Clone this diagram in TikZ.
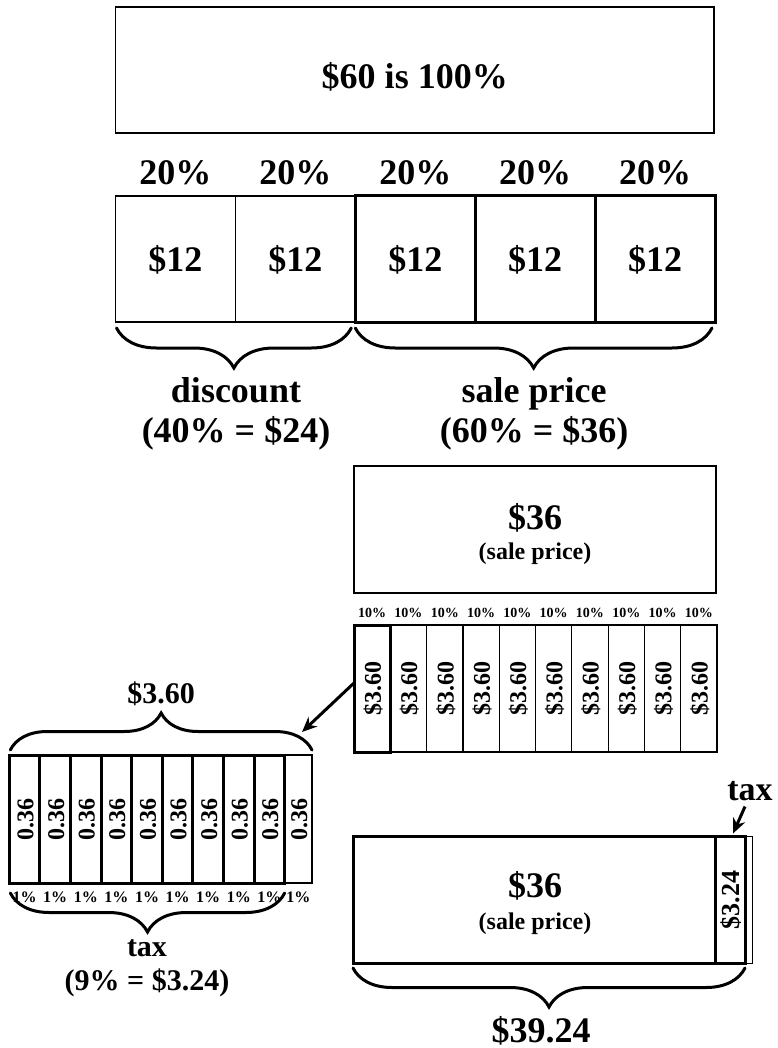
\documentclass[tikz,border=0pt]{standalone}
\usepackage{fontspec}
\setmainfont{Liberation Serif}
\usetikzlibrary{decorations.pathreplacing,arrows.meta}
\newcommand{\myfs}[1]{\bfseries\fontsize{#1}{#1}\selectfont}
\begin{document}
\begin{tikzpicture}[x=1pt,y=-1pt,
  txt/.style={inner sep=0, font=\myfs{#1}},
  box/.style={draw, inner sep=0, outer sep=0, line width=#1},
  brc/.style={decorate, decoration={brace, amplitude=#1}, line width=3pt, line cap=round},
  arr/.style={-{Stealth[length=15pt,width=13pt]}, line width=3pt}]
\useasboundingbox (0,0) rectangle (777,1048);

% ---------- top box ----------
\node[box=1.3pt, minimum width=598.5, minimum height=126] (top) at (414.75,70) {};
\node[txt=36, anchor=base] (toplbl) at (414.75,89) {\$60 is 100\%};

% ---------- five boxes ----------
\foreach \i in {1,2} {
  \pgfmathsetmacro\cx{115.5+119.9*(\i-0.5)}
  \node[box=1.2pt, minimum width=119.9, minimum height=126] (b\i) at (\cx,259) {};
}
\foreach \i in {3,4,5} {
  \pgfmathsetmacro\cx{115.5+119.9*(\i-0.5)}
  \node[box=3pt, minimum width=119.9, minimum height=126] (b\i) at (\cx,259) {};
}
\foreach \i in {1,...,5} {
  \node[txt=36, anchor=base] (p\i) at ([yshift=-13]b\i.center) {\$12};
  \node[txt=36, anchor=base] (q\i) at (b\i.center |- 0,185) {20\%};
}

% ---------- braces under five boxes ----------
\draw[brc=40pt] ([xshift=-4,yshift=-6]b2.south east) -- ([xshift=1,yshift=-6]b1.south west);
\draw[brc=40pt] ([xshift=-3,yshift=-6]b5.south east) -- ([xshift=0,yshift=-6]b3.south west);
\node[txt=36, anchor=base] (disc) at (236,402) {discount};
\node[txt=36, anchor=base] (discv) at (236,442) {(40\% = \$24)};
\node[txt=36, anchor=base] (sale) at (534,402) {sale price};
\node[txt=36, anchor=base] (salev) at (534,442) {(60\% = \$36)};

% ---------- sale price box ----------
\node[box=1.6pt, minimum width=362, minimum height=127] (sp) at (535,529.5) {};
\node[txt=36, anchor=base] (spa) at (535,529) {\$36};
\node[txt=24, anchor=base] (spb) at (535,559) {(sale price)};

% ---------- ten 10% columns ----------
\foreach \i in {2,...,10} {
  \pgfmathsetmacro\cx{354+36.3*(\i-0.5)}
  \node[box=1.2pt, minimum width=36.3, minimum height=127] (s\i) at (\cx,688.5) {};
}
\node[box=3pt, minimum width=36.3, minimum height=127] (s1) at (372.15,688.5) {};
\foreach \i in {1,...,10} {
  \node[txt=24, rotate=90] (st\i) at ([xshift=1]s\i.center) {\$3.60};
  \node[txt=14, anchor=base] (sp\i) at (s\i.center |- 0,617) {10\%};
}

% ---------- arrow to left strip ----------
\coordinate (tipA) at (302,732);
\draw[arr] ([yshift=5.5]s1.west) -- (tipA);

% ---------- left strip ----------
\node[box=1.2pt, minimum width=27.3, minimum height=128] (l10) at (298.35,819) {};
\foreach \i in {1,...,9} {
  \pgfmathsetmacro\cx{9.3+30.6*(\i-0.5)}
  \node[box=3pt, minimum width=30.6, minimum height=128] (l\i) at (\cx,819) {};
}
\foreach \i in {1,...,10} {
  \node[txt=24, rotate=90] (lt\i) at ([xshift=1]l\i.center) {0.36};
  \node[txt=16, anchor=base] (lp\i) at (l\i.center |- 0,902) {1\%};
}
\draw[brc=37pt] ([xshift=1,yshift=5]l1.north west) -- ([yshift=5]l10.north east);
\node[txt=30, anchor=base] (tl) at (161,703) {\$3.60};
\draw[brc=39pt] ([yshift=-10]l9.south east) -- ([xshift=1,yshift=-10]l1.south west);
\node[txt=30, anchor=base] (taxl) at (147,956) {tax};
\node[txt=30, anchor=base] (taxv) at (147,990) {(9\% = \$3.24)};

% ---------- bottom right ----------
\node[box=3pt, minimum width=362, minimum height=126.5] (mb) at (534,899.75) {};
\node[box=1pt, minimum width=37, minimum height=127] (txo) at (733.5,899.75) {};
\node[box=3pt, minimum width=30, minimum height=126.5] (tx) at (730,899.75) {};
\node[txt=26, rotate=90] (txt) at ([xshift=1]tx.center) {\$3.24};
\node[txt=36, anchor=base] (mba) at (535,897) {\$36};
\node[txt=24, anchor=base] (mbb) at (535,929) {(sale price)};
\node[txt=34, anchor=base] (taxT) at (750,800) {tax};
\draw[arr] ([xshift=-5,yshift=-6]taxT.south) -- ([xshift=3,yshift=3]tx.north);
\draw[brc=39pt] ([yshift=-5]tx.south east) -- ([yshift=-5]mb.south west);
\node[txt=36, anchor=base] (tot) at (541,1042) {\$39.24};
\end{tikzpicture}
\end{document}
